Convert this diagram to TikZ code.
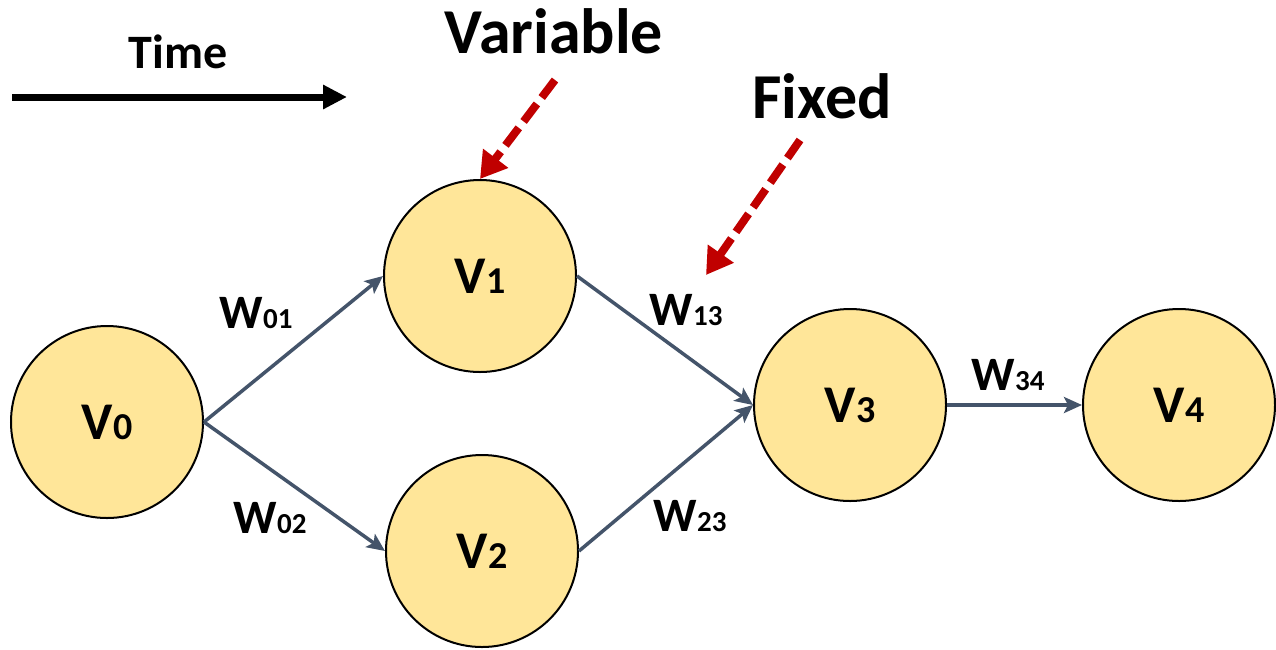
\documentclass[tikz,border=0pt]{standalone}
\usepackage{fontspec}
\setmainfont{Carlito}
\usetikzlibrary{arrows.meta}
\definecolor{nodefill}{HTML}{FFE699}
\definecolor{edgecol}{HTML}{44546A}
\definecolor{markred}{HTML}{C00000}
% vertex name: big V with a smaller index on the baseline
\newcommand{\vtx}[1]{{\fontsize{53}{53}\selectfont V\fontsize{38}{38}\selectfont #1}}
% edge weight: W with a smaller index on the baseline
\newcommand{\wgt}[1]{{\fontsize{48}{48}\selectfont W\fontsize{29}{29}\selectfont #1}}
\begin{document}
\begin{tikzpicture}[x=1pt,y=-1pt,
  font=\bfseries,
  vertex/.style={circle,draw=black,line width=2pt,fill=nodefill,
    minimum size=192pt,inner sep=0pt},
  edge/.style={draw=edgecol,line width=3.5pt,
    -{Stealth[length=18pt,width=16pt,inset=4pt]}},
  marker/.style={draw=markred,line width=8pt,dash pattern=on 22pt off 8pt,
    -{Triangle[length=26pt,width=30pt]}},
  wlabel/.style={anchor=base,inner sep=0pt},
  title/.style={anchor=base,inner sep=0pt,font=\bfseries\fontsize{64}{64}\selectfont}]
\useasboundingbox (0,0) rectangle (1276,649);

% time direction
\coordinate (tstart) at (12,97);
\coordinate (tend) at (347,97);
\node[wlabel,font=\bfseries\fontsize{48}{48}\selectfont] (time) at (178,68) {Time};
\draw[line width=7pt,-{Triangle[length=24pt,width=23pt]}] (tstart) -- (tend);

% vertices
\node[vertex] (V0) at (107,422) {\vtx{0}};
\node[vertex] (V1) at (480,276) {\vtx{1}};
\node[vertex] (V2) at (482,551) {\vtx{2}};
\node[vertex] (V3) at (850,405) {\vtx{3}};
\node[vertex] (V4) at (1179,405) {\vtx{4}};

% weighted edges
\draw[edge] (V0.east) -- (V1.west);
\draw[edge] (V0.east) -- (V2.west);
\draw[edge] (V1.east) -- (V3.west);
\draw[edge] (V2.east) -- (V3.west);
\draw[edge] (V3.east) -- (V4.west);

\node[wlabel] (w01) at (256,328) {\wgt{01}};
\node[wlabel] (w02) at (270,533) {\wgt{02}};
\node[wlabel] (w13) at (686,325) {\wgt{13}};
\node[wlabel] (w23) at (690,531) {\wgt{23}};
\node[wlabel] (w34) at (1008,390) {\wgt{34}};

% annotations
\node[title] (variable) at (554,53) {Variable};
\node[title] (fixed) at (822,118) {Fixed};
\coordinate (varfrom) at (555,80);
\coordinate (fixfrom) at (800,140);
\coordinate (fixto) at (706,275);
\draw[marker] (varfrom) -- (V1.north);
\draw[marker] (fixfrom) -- (fixto);
\end{tikzpicture}
\end{document}
